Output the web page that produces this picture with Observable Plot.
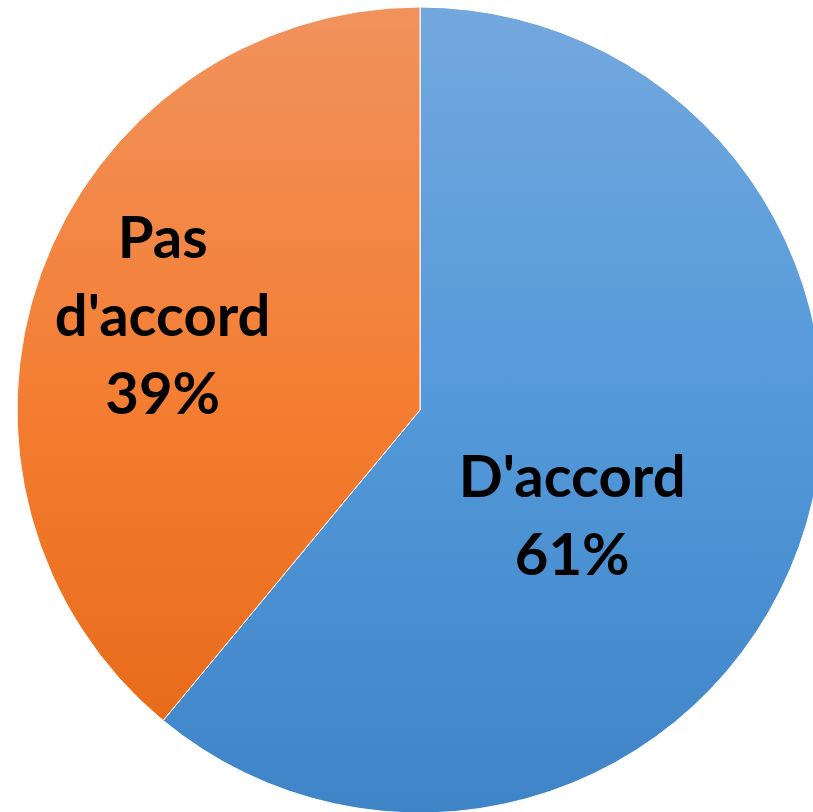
<!DOCTYPE html>
<html>
<head>
<meta charset="utf-8">
<script src="https://cdn.jsdelivr.net/npm/d3@7"></script>
<script src="https://cdn.jsdelivr.net/npm/@observablehq/plot@0.6"></script>
<style>
  html, body { margin: 0; padding: 0; background: #fff; }
  #chart svg { display: block; }
</style>
</head>
<body>
<div id="chart"></div>
<script>
const categories = ["D'accord", "Pas d'accord"];
const values = [61, 39];
const labels = ["61%", "39%"];

const W = 813, H = 812;
const cx = 420, cy = 410, R = 403;

const pie = d3.pie().sort(null).value(d => d.value);
const slices = pie(categories.map((c, i) => ({category: c, value: values[i], label: labels[i]})));

const gradients = [
  {id: "gBlue", stops: [["0%", "#73a8de"], ["50%", "#5399da"], ["100%", "#3f84c6"]]},
  {id: "gOrange", stops: [["0%", "#f1925d"], ["50%", "#f47d31"], ["100%", "#e56614"]]}
];

// label placement (fraction of radius, angle shift) per slice, Excel best-fit
const labelRadius = [0.46, 0.68];
const labelAngleShift = [0.267, 0.0];

const labelData = slices.map((s, i) => {
  const a = (s.startAngle + s.endAngle) / 2 + labelAngleShift[i];
  const r = labelRadius[i];
  return {x: Math.sin(a) * r, y: -Math.cos(a) * r, lines: s.data.category === "Pas d'accord" ? ["Pas", "d'accord", s.data.label] : [s.data.category, s.data.label]};
});

const textRows = [];
labelData.forEach(d => {
  const n = d.lines.length;
  d.lines.forEach((t, j) => textRows.push({x: d.x, y: d.y, t, off: (j - (n - 1) / 2)}));
});

const sliceMark = (index, scales, values, dims, context) => {
  const x0 = scales.x(0), y0 = scales.y(0);
  const rad = scales.x(1) - scales.x(0);
  const g = d3.create("svg:g").attr("transform", `translate(${x0},${y0})`);
  const defs = g.append("defs");
  gradients.forEach(gr => {
    const lg = defs.append("linearGradient")
      .attr("id", gr.id)
      .attr("gradientUnits", "userSpaceOnUse")
      .attr("x1", 0).attr("x2", 0)
      .attr("y1", -rad).attr("y2", rad);
    gr.stops.forEach(([o, c]) => lg.append("stop").attr("offset", o).attr("stop-color", c));
  });
  const arc = d3.arc().innerRadius(0).outerRadius(rad);
  g.selectAll("path").data(slices).join("path")
    .attr("d", arc)
    .attr("fill", (d, i) => `url(#${gradients[i].id})`)
    .attr("stroke", "#ffffff")
    .attr("stroke-width", 1)
    .attr("stroke-linejoin", "round");
  return g.node();
};

const plot = Plot.plot({
  width: W,
  height: H,
  margin: 0,
  x: {domain: [-1, 1], range: [cx - R, cx + R], axis: null},
  y: {domain: [-1, 1], range: [cy - R, cy + R], axis: null},
  style: {background: "#fff", overflow: "hidden"},
  marks: [
    sliceMark,
    Plot.text(textRows, {
      x: "x",
      y: "y",
      text: "t",
      fill: "#000",
      fontSize: 58,
      fontWeight: "bold",
      fontFamily: "Lato, 'Open Sans', sans-serif",
      lineAnchor: "middle",
      render: (index, scales, vals, dims, context, next) => {
        const el = next(index, scales, vals, dims, context);
        d3.select(el).selectAll("text").each(function(_, k) {
          const row = textRows[index[k]];
          const cur = d3.select(this).attr("transform") || "";
          d3.select(this).attr("transform", cur + ` translate(0,${row.off * 78})`);
        });
        return el;
      }
    })
  ]
});

document.getElementById("chart").appendChild(plot);
</script>
</body>
</html>
